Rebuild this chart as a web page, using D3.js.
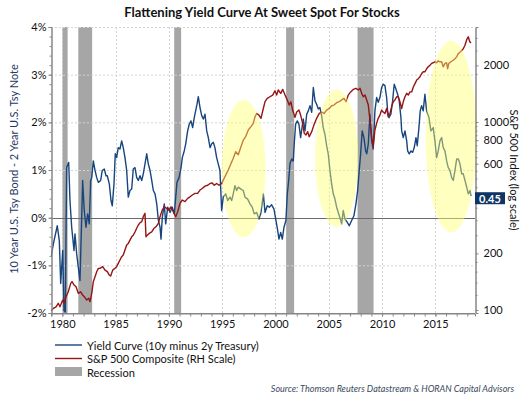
<!DOCTYPE html>
<html><head><meta charset="utf-8">
<script src="https://cdn.jsdelivr.net/npm/d3@7"></script>
<style>
body{margin:0;background:#fff;}
svg{display:block;font-family:Lato,"Open Sans",sans-serif;}
</style></head><body>
<svg id="chart" width="526" height="394"></svg>
<script>
// ---- data ----
const ycYears=[1978.94,1979.16,1979.53,1979.72,1979.85,1980.04,1980.16,1980.28,1980.41,1980.6,1980.72,1980.88,1981.10,1981.19,1981.35,1981.50,1981.66,1981.82,1981.91,1982.06,1982.22,1982.38,1982.53,1982.66,1982.76,1982.91,1983.07,1983.23,1983.38,1983.60,1983.75,1983.94,1984.10,1984.22,1984.41,1984.57,1984.69,1984.85,1984.97,1985.10,1985.25,1985.41,1985.57,1985.72,1985.88,1986.04,1986.19,1986.35,1986.51,1986.66,1986.82,1986.98,1987.13,1987.29,1987.45,1987.60,1987.76,1987.92,1988.07,1988.23,1988.39,1988.54,1988.70,1988.86,1989.01,1989.17,1989.26,1989.38,1989.57,1989.70,1989.89,1990.11,1990.32,1990.51,1990.64,1990.76,1990.95,1991.14,1991.26,1991.44,1991.58,1991.76,1991.91,1992.07,1992.23,1992.38,1992.51,1992.64,1992.76,1992.92,1993.08,1993.23,1993.39,1993.55,1993.70,1993.86,1994.02,1994.17,1994.32,1994.48,1994.63,1994.79,1994.95,1995.10,1995.33,1995.52,1995.73,1995.89,1996.04,1996.20,1996.36,1996.51,1996.76,1996.98,1997.14,1997.39,1997.61,1997.82,1998.01,1998.24,1998.45,1998.64,1998.86,1999.02,1999.23,1999.42,1999.64,1999.86,2000.05,2000.21,2000.33,2000.49,2000.64,2000.80,2000.98,2001.11,2001.24,2001.36,2001.52,2001.67,2001.76,2001.89,2002.05,2002.20,2002.36,2002.49,2002.61,2002.77,2002.93,2003.08,2003.24,2003.40,2003.55,2003.71,2003.86,2004.02,2004.17,2004.33,2004.48,2004.64,2004.80,2004.95,2005.11,2005.27,2005.42,2005.58,2005.74,2005.89,2006.05,2006.21,2006.36,2006.52,2006.74,2006.92,2007.15,2007.36,2007.55,2007.71,2007.86,2007.99,2008.14,2008.30,2008.46,2008.56,2008.71,2008.86,2009.02,2009.17,2009.33,2009.49,2009.64,2009.80,2009.96,2010.11,2010.27,2010.43,2010.52,2010.65,2010.83,2010.99,2011.14,2011.30,2011.46,2011.61,2011.77,2011.84,2011.99,2012.15,2012.31,2012.40,2012.55,2012.71,2012.87,2013.02,2013.18,2013.30,2013.46,2013.58,2013.71,2013.86,2014.02,2014.18,2014.40,2014.58,2014.80,2014.96,2015.12,2015.27,2015.43,2015.59,2015.74,2015.90,2016.06,2016.21,2016.37,2016.53,2016.68,2016.84,2017.00,2017.15,2017.31,2017.47,2017.62,2017.78,2017.94,2018.09,2018.25,2018.34];
const ycValues=[-0.83,-0.55,-0.17,-0.48,-1.38,-0.69,-1.95,-1.98,1.05,1.16,0.36,-0.2,-0.69,-0.34,-0.76,-1.04,-1.32,0.0,0.78,0.15,-0.2,0.08,-0.13,0.78,0.84,1.19,0.99,0.84,0.74,0.78,0.99,1.02,0.88,0.88,0.71,0.36,0.25,0.71,1.34,1.26,1.47,1.44,1.61,1.47,1.26,0.99,0.43,0.57,0.6,1.02,1.05,0.84,0.78,0.88,0.78,0.92,1.13,1.34,1.13,0.99,0.78,0.57,0.5,0.29,-0.05,-0.2,-0.45,0.0,0.29,-0.13,0.22,0.11,0.22,0.08,0.43,0.74,0.84,1.05,1.26,1.4,1.55,1.82,1.96,2.03,1.89,2.1,2.24,2.38,2.54,2.31,2.14,2.07,2.17,1.82,1.68,1.47,1.55,1.58,1.47,1.26,1.13,0.99,0.15,0.43,0.5,0.36,0.43,0.36,0.5,0.67,0.57,0.64,0.6,0.57,0.43,0.39,0.29,0.22,0.08,0.11,-0.03,0.11,0.5,0.11,0.25,0.22,0.27,0.18,-0.06,-0.27,-0.45,-0.31,-0.45,-0.2,-0.06,0.5,0.78,1.13,1.23,1.19,1.55,1.96,2.03,1.96,1.68,1.89,2.07,1.82,2.17,2.24,2.35,2.21,2.73,2.45,2.38,2.28,2.31,2.14,1.89,1.75,1.51,1.34,0.99,0.71,0.5,0.39,0.22,0.11,0.0,-0.13,0.15,-0.03,-0.1,-0.17,-0.06,0.04,0.29,0.57,0.99,1.34,1.82,1.68,1.4,1.34,1.55,2.17,1.61,1.44,2.24,2.52,2.42,2.52,2.73,2.8,2.77,2.52,2.24,2.1,2.17,2.45,2.8,2.7,2.59,2.45,2.1,1.82,1.68,1.82,1.61,1.4,1.34,1.4,1.37,1.47,1.68,1.51,1.89,2.24,2.35,2.24,2.59,2.24,2.1,1.82,1.89,1.61,1.26,1.4,1.61,1.68,1.47,1.4,1.19,1.05,0.99,0.84,0.78,0.99,1.23,1.23,1.13,0.92,0.92,0.78,0.64,0.5,0.57,0.45];
const spYears=[1978.95,1979.16,1979.41,1979.62,1979.78,1980.04,1980.16,1980.35,1980.56,1980.79,1980.91,1981.10,1981.29,1981.50,1981.73,1981.91,1982.06,1982.29,1982.48,1982.60,1982.76,1982.91,1983.07,1983.23,1983.38,1983.54,1983.79,1984.01,1984.22,1984.41,1984.54,1984.73,1984.94,1985.10,1985.25,1985.41,1985.57,1985.72,1985.88,1986.04,1986.19,1986.35,1986.51,1986.66,1986.82,1986.98,1987.13,1987.29,1987.45,1987.60,1987.76,1987.85,1987.97,1988.16,1988.39,1988.60,1988.79,1989.01,1989.17,1989.38,1989.57,1989.79,1990.01,1990.20,1990.41,1990.64,1990.83,1991.04,1991.26,1991.51,1991.76,1991.98,1992.20,1992.45,1992.70,1992.92,1993.13,1993.39,1993.64,1993.86,1994.07,1994.26,1994.48,1994.70,1994.95,1995.26,1995.57,1995.83,1996.04,1996.27,1996.51,1996.76,1996.98,1997.20,1997.45,1997.70,1997.92,1998.08,1998.24,1998.45,1998.64,1998.86,1999.02,1999.23,1999.48,1999.74,1999.95,2000.11,2000.26,2000.49,2000.68,2000.90,2001.11,2001.29,2001.45,2001.61,2001.83,2001.99,2002.20,2002.36,2002.55,2002.70,2002.86,2003.02,2003.17,2003.40,2003.61,2003.86,2004.11,2004.33,2004.55,2004.80,2005.05,2005.27,2005.49,2005.74,2005.98,2006.21,2006.43,2006.62,2006.83,2007.05,2007.30,2007.55,2007.77,2007.93,2008.09,2008.24,2008.40,2008.56,2008.71,2008.86,2009.02,2009.17,2009.33,2009.49,2009.64,2009.80,2009.96,2010.11,2010.27,2010.43,2010.58,2010.74,2010.90,2011.05,2011.21,2011.37,2011.52,2011.68,2011.84,2011.99,2012.15,2012.31,2012.46,2012.62,2012.78,2012.93,2013.09,2013.25,2013.40,2013.56,2013.72,2013.87,2014.03,2014.18,2014.33,2014.49,2014.65,2014.80,2014.96,2015.12,2015.27,2015.43,2015.59,2015.74,2015.90,2016.06,2016.15,2016.27,2016.46,2016.68,2016.84,2017.00,2017.15,2017.31,2017.47,2017.62,2017.78,2017.94,2018.09,2018.22,2018.34];
const spValues=[99,102,104,108.6,104,113,108.6,117.7,125,138.6,141.5,136,133,122.7,125,120,117.7,113,115.4,110.7,122.7,141.5,150.3,159.9,166.6,166.6,170,163,159.9,153.3,151.6,163,166.6,170,177,184.6,192.2,196,208.6,221.6,226,235.5,245,250,260,272,283,291,295,313.6,327,245,250,255.6,260,272,277,289,313.6,340,354,347,340,354,333,313.6,333,369,384.6,377,392.6,400,409,417,417,434.6,443,456,461,471,474,461,471,461,471,512,555,602,641,695,669,739,801,835,906,944,983,1066,1110,1088,1046,1180,1282,1335,1362,1390,1466,1390,1480,1420,1490,1390,1310,1230,1280,1157,1058,1130,1157,1088,983,870,853,888,835,888,965,1046,1110,1130,1110,1157,1180,1220,1230,1267,1282,1310,1335,1282,1390,1445,1490,1510,1480,1510,1420,1362,1390,1310,1230,1026,835,739,906,983,1046,1088,1157,1130,1110,1180,1066,1110,1208,1280,1310,1362,1362,1280,1180,1280,1362,1420,1390,1445,1445,1535,1600,1670,1700,1740,1810,1850,1850,1920,1965,2000,2050,2065,2090,2065,2115,2090,2090,1965,2050,2065,1920,2050,2090,2130,2170,2220,2310,2350,2400,2450,2560,2740,2840,2680,2630];
const recessionStart=[1980.0,1981.5,1990.5,2001.0,2007.7];
const recessionEnd=[1980.5,1982.8,1991.15,2001.75,2009.2];
const xTickYears=[1980,1985,1990,1995,2000,2005,2010,2015];
const leftTicks=[-2,-1,0,1,2,3,4];
const rightTicks=[100,200,600,800,1000,2000];
const rightMinorTicks=[120,140,160,180,250,300,350,400,450,500,550,650,700,750,850,900,950,1800,2400,2800];
// highlight ellipses (data coordinates: year, % spread)
const hlCenterYear=[1997.02,2005.74,2016.48];
const hlCenterPct=[1.03,1.25,1.70];
const hlHalfYears=[2.06,2.03,2.39];
const hlHalfPct=[1.44,1.44,2.01];
const lastSpread=0.45;

// ---- layout ----
const svg=d3.select("#chart");
const L=51,R=475,T=27,B=313;
const x=d3.scaleLinear().domain([1978.94,2018.72]).range([L,R]);
const yL=d3.scaleLinear().domain([-2,4]).range([B,T]);
const yR=d3.scaleLog().domain([96.4,3200]).range([B,T]);
const blue="#17457d", red="#961414", grid="#d4d4d4", axisC="#868686", txt="#111";

svg.append("defs").append("clipPath").attr("id","clip")
  .append("rect").attr("x",L).attr("y",T).attr("width",R-L).attr("height",B-T);

// recession bars
svg.append("g").selectAll("rect").data(recessionStart).join("rect")
  .attr("x",(d)=>x(d)).attr("width",(d,i)=>x(recessionEnd[i])-x(d))
  .attr("y",T).attr("height",B-T).attr("fill","#a6a6a6");

// gridlines
const g=svg.append("g");
g.selectAll("line.h").data(leftTicks.filter(d=>d!==0&&d!==-2)).join("line")
  .attr("x1",L).attr("x2",R).attr("y1",d=>yL(d)+0.5).attr("y2",d=>yL(d)+0.5)
  .attr("stroke",grid).attr("stroke-dasharray","2,2");
g.selectAll("line.v").data(xTickYears).join("line")
  .attr("x1",d=>Math.round(x(d))+0.5).attr("x2",d=>Math.round(x(d))+0.5).attr("y1",T).attr("y2",B)
  .attr("stroke",grid).attr("stroke-dasharray","2,2");
// zero line
svg.append("line").attr("x1",L).attr("x2",R).attr("y1",Math.round(yL(0))+0.5).attr("y2",Math.round(yL(0))+0.5)
  .attr("stroke","#6a6a6a").attr("stroke-width",1);

// lines
const ycLine=d3.line().x((d,i)=>x(ycYears[i])).y(d=>yL(d));
const spLine=d3.line().x((d,i)=>x(spYears[i])).y(d=>yR(d));
const lg=svg.append("g").attr("clip-path","url(#clip)");
lg.append("path").datum(ycValues).attr("d",ycLine).attr("fill","none").attr("stroke",blue).attr("stroke-width",1.4).attr("stroke-linejoin","round");
lg.append("path").datum(spValues).attr("d",spLine).attr("fill","none").attr("stroke",red).attr("stroke-width",1.4).attr("stroke-linejoin","round");

// highlight ellipses
svg.append("g").selectAll("ellipse").data(hlCenterYear).join("ellipse")
  .attr("cx",d=>x(d)).attr("cy",(d,i)=>yL(hlCenterPct[i]))
  .attr("rx",(d,i)=>x(d+hlHalfYears[i])-x(d)).attr("ry",(d,i)=>yL(0)-yL(hlHalfPct[i]))
  .attr("fill","#ffff70").attr("opacity",0.45);

// axes
function styleAxis(sel){
  sel.selectAll(".domain").attr("stroke",axisC);
  sel.selectAll(".tick line").attr("stroke",axisC);
  sel.selectAll("text").attr("fill",txt).style("font-size","11px").style("font-family","Lato,'Open Sans',sans-serif");
}
const ax1=svg.append("g").attr("transform",`translate(${L+0.5},0)`)
  .call(d3.axisLeft(yL).tickValues(d3.range(-2,4.01,0.2)).tickSize(2).tickFormat(""));
styleAxis(ax1);
const ax1b=svg.append("g").attr("transform",`translate(${L+0.5},0)`)
  .call(d3.axisLeft(yL).tickValues(leftTicks).tickSize(3).tickPadding(2).tickFormat(d=>d+"%"));
styleAxis(ax1b);

const ax2=svg.append("g").attr("transform",`translate(${R+0.5},0)`)
  .call(d3.axisRight(yR).tickValues(rightMinorTicks).tickSize(2).tickFormat(""));
styleAxis(ax2);
const ax2b=svg.append("g").attr("transform",`translate(${R+0.5},0)`)
  .call(d3.axisRight(yR).tickValues(rightTicks).tickSize(3).tickPadding(5).tickFormat(d3.format("d")));
styleAxis(ax2b);

const ax3=svg.append("g").attr("transform",`translate(0,${B+0.5})`)
  .call(d3.axisBottom(x).tickValues(d3.range(1979,2019,1)).tickSize(3).tickFormat(""));
styleAxis(ax3);
const ax3b=svg.append("g").attr("transform",`translate(0,${B+0.5})`)
  .call(d3.axisBottom(x).tickValues(xTickYears).tickSize(3).tickPadding(4).tickFormat(d3.format("d")));
styleAxis(ax3b);
ax3b.select(".domain").attr("d",`M${L},0H${R}`);

// last value label
const lv=svg.append("g");
lv.append("rect").attr("x",R).attr("y",yL(lastSpread)-4).attr("width",30).attr("height",12).attr("fill","#0e3563");
lv.append("text").attr("x",R+15).attr("y",yL(lastSpread)+2).attr("text-anchor","middle").attr("dominant-baseline","central")
  .attr("fill","#fff").attr("font-weight","bold").attr("font-size","11px").text(lastSpread.toFixed(2));

// title & labels
svg.append("text").attr("x",262).attr("y",17).attr("text-anchor","middle").attr("font-weight","bold")
  .attr("font-size","13px").attr("fill","#111").text("Flattening Yield Curve At Sweet Spot For Stocks");
svg.append("text").attr("transform","translate(13,169) rotate(-90)").attr("text-anchor","middle")
  .attr("dominant-baseline","central").attr("font-size","11px").attr("fill","#1f3864")
  .text("10 Year U.S. Tsy Bond - 2 Year U.S. Tsy Note");
svg.append("text").attr("transform","translate(514,170) rotate(90)").attr("text-anchor","middle")
  .attr("dominant-baseline","central").attr("font-size","11px").attr("fill","#111")
  .text("S&P 500 Index (log scale)");

// legend
const legItems=["Yield Curve (10y minus 2y Treasury)","S&P 500 Composite (RH Scale)","Recession"];
const leg=svg.append("g");
leg.append("line").attr("x1",55).attr("x2",82).attr("y1",345).attr("y2",345).attr("stroke",blue).attr("stroke-width",1.4);
leg.append("line").attr("x1",55).attr("x2",82).attr("y1",358.5).attr("y2",358.5).attr("stroke",red).attr("stroke-width",1.4);
leg.append("rect").attr("x",55).attr("y",367).attr("width",27).attr("height",9).attr("fill","#a6a6a6");
leg.selectAll("text").data(legItems).join("text").attr("x",87).attr("y",(d,i)=>345+i*13.5)
  .attr("dominant-baseline","central").attr("font-size","11px").attr("fill","#111").text(d=>d);

svg.append("text").attr("x",514).attr("y",388).attr("text-anchor","end").attr("dominant-baseline","central")
  .attr("font-style","italic").attr("font-size","9px").attr("fill","#3a4a5e")
  .text("Source: Thomson Reuters Datastream & HORAN Capital Advisors");
</script></body></html>
